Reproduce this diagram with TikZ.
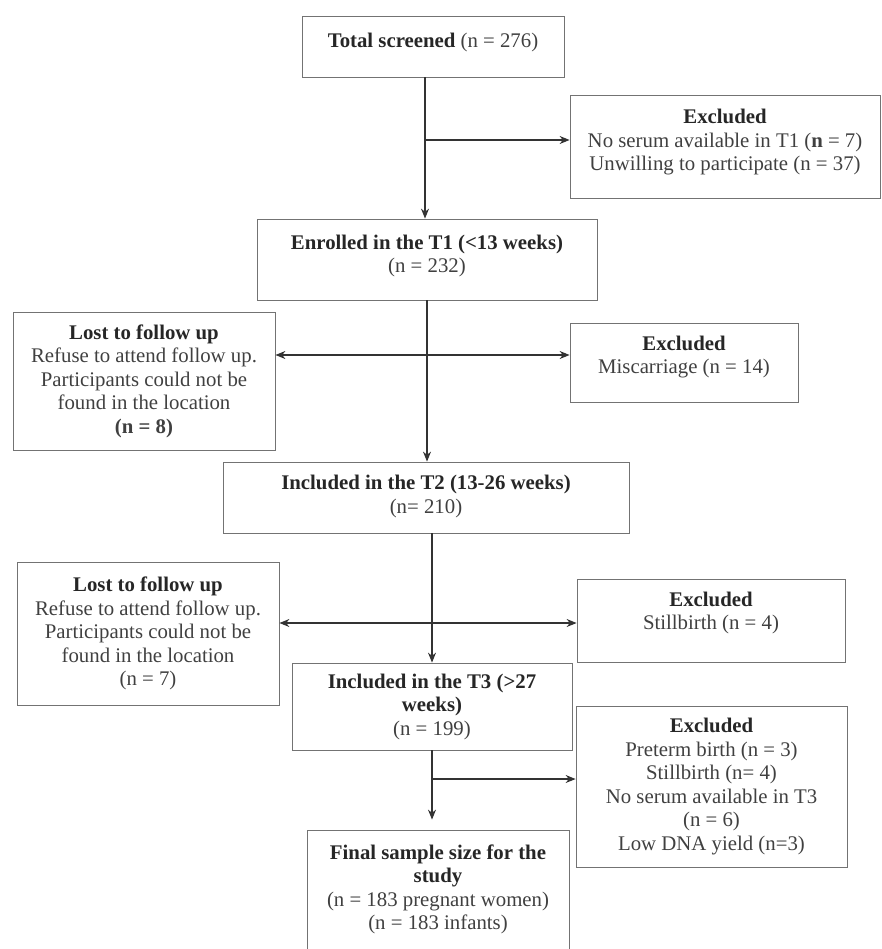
\documentclass[tikz,border=0pt]{standalone}
\usepackage{fontspec}
\setmainfont{Liberation Serif}
\usetikzlibrary{arrows.meta}
\begin{document}
\begin{tikzpicture}[x=1pt,y=-1pt,
  box/.style={draw=black!55, line width=0.8pt, align=center, inner sep=0pt,
    font=\fontsize{20.8}{23.5}\selectfont, text=black!75},
  conn/.style={draw=black!80, line width=1.1pt},
  arr/.style={conn, -{Stealth[length=10pt,width=8pt]}}]
\useasboundingbox (0,0) rectangle (882,949);

\node[box, minimum width=262pt, minimum height=61pt] (total) at (433,46.5)
  {\textbf{\color{black!85}Total screened} (n = 276)\\[-10.5pt]};
\node[box, minimum width=310pt, minimum height=103pt] (excl1) at (725,146.5)
  {\textbf{\color{black!85}Excluded}\\No serum available in T1 (\textbf{n} = 7)\\Unwilling to participate (n = 37)\\[-10.5pt]};
\node[box, minimum width=340pt, minimum height=81pt] (enr) at (427,259.5)
  {\textbf{\color{black!85}Enrolled in the T1 (<13 weeks)}\\(n = 232)\\[-12.5pt]};
\node[box, minimum width=262pt, minimum height=138pt] (lost1) at (144,381)
  {\textbf{\color{black!85}Lost to follow up}\\Refuse to attend follow up.\\Participants could not be\\found in the location\\\textbf{(n = 8)}};
\node[box, minimum width=228pt, minimum height=79pt] (excl2) at (684,362.5)
  {\textbf{\color{black!85}Excluded}\\Miscarriage (n = 14)\\[-8.5pt]};
\node[box, minimum width=406pt, minimum height=71pt] (t2) at (426,497.5)
  {\textbf{\color{black!85}Included in the T2 (13-26 weeks)}\\(n= 210)\\[-17.5pt]};
\node[box, minimum width=262pt, minimum height=143pt] (lost2) at (148,633.5)
  {\textbf{\color{black!85}Lost to follow up}\\Refuse to attend follow up.\\Participants could not be\\found in the location\\(n = 7)};
\node[box, minimum width=268pt, minimum height=83pt] (excl3) at (711,620.5)
  {\textbf{\color{black!85}Excluded}\\Stillbirth (n = 4)\\[-4.5pt]};
\node[box, minimum width=280pt, minimum height=87pt] (t3) at (432,706.5)
  {\textbf{\color{black!85}Included in the T3 (>27}\\\textbf{\color{black!85}weeks)}\\(n = 199)};
\node[box, minimum width=271pt, minimum height=161pt] (excl4) at (711.5,786.5)
  {\textbf{\color{black!85}Excluded}\\Preterm birth (n = 3)\\Stillbirth (n= 4)\\No serum available in T3\\(n = 6)\\Low DNA yield (n=3)};
\node[box, minimum width=262pt, minimum height=122pt] (final) at (438,891)
  {\textbf{\color{black!85}Final sample size for the}\\\textbf{\color{black!85}study}\\(n = 183 pregnant women)\\(n = 183 infants)\\[-15.5pt]};

\coordinate (s1) at (425,140);
\coordinate (s2) at (427,355);
\coordinate (s3) at (432,623);
\coordinate (s4) at (432,779);

\draw[arr] (total.south -| s1) -- (enr.north -| s1);
\draw[arr] (s1) -- (s1 -| excl1.west);

\draw[arr] (enr.south -| s2) -- (t2.north -| s2);
\draw[arr] (s2) -- (s2 -| lost1.east);
\draw[arr] (s2) -- (s2 -| excl2.west);

\draw[arr] (t2.south -| s3) -- (t3.north -| s3);
\draw[arr] (s3) -- (s3 -| lost2.east);
\draw[arr] (s3) -- (s3 -| excl3.west);

\draw[arr] (t3.south -| s4) -- ([yshift=10pt]final.north -| s4);
\draw[arr] (s4) -- (s4 -| excl4.west);
\end{tikzpicture}
\end{document}
